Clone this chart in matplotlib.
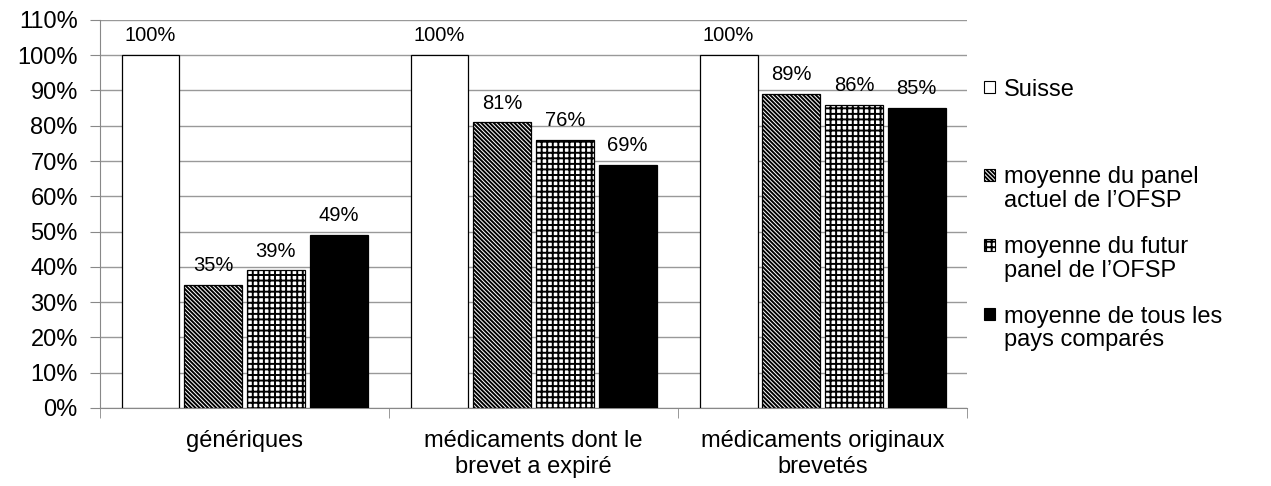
import numpy as np
import matplotlib.pyplot as plt
from matplotlib.patches import Rectangle

plt.rcParams['font.family'] = ['Liberation Sans', 'DejaVu Sans']
plt.rcParams['hatch.linewidth'] = 1.4

# data
categories = ['génériques', 'médicaments dont le\nbrevet a expiré', 'médicaments originaux\nbrevetés']
series = [['Suisse'],
          ['moyenne du panel', 'actuel de l\u2019OFSP'],
          ['moyenne du futur', 'panel de l\u2019OFSP'],
          ['moyenne de tous les', 'pays comparés']]
values = [
    [100, 100, 100],
    [35, 81, 89],
    [39, 76, 86],
    [49, 69, 85],
]
faces = ['white', 'white', 'white', 'black']
hatches = [None, '\\' * 8, '+++', None]

fig = plt.figure(figsize=(12.71, 4.86), dpi=100)
ax = fig.add_axes([0.0787, 0.1605, 0.6823, 0.7985])

x = np.arange(len(categories)) + 0.5
width = 0.2
step = 0.217
for i, vals in enumerate(values):
    pos = x + (i - 1.5) * step
    bars = ax.bar(pos, vals, width, color=faces[i], edgecolor='black', hatch=hatches[i],
                  linewidth=0.9, zorder=3)
    for b, v in zip(bars, vals):
        ax.annotate(f'{v}%', (b.get_x() + b.get_width() / 2, v), xytext=(0, 7),
                    textcoords='offset points', ha='center', va='bottom', fontsize=14.5)

ax.set_xlim(0, 3)
ax.set_ylim(0, 110)
ax.set_yticks(np.arange(0, 111, 10))
ax.set_yticklabels([f'{t}%' for t in range(0, 111, 10)], fontsize=17)
ax.set_xticks(x)
ax.set_xticklabels(categories, fontsize=17, linespacing=1.25)
ax.set_xticks([0, 1, 2, 3], minor=True)
ax.tick_params(axis='x', which='major', length=0, pad=16)
ax.tick_params(axis='x', which='minor', length=7, color='#888888')
ax.tick_params(axis='y', length=7, color='#888888', pad=9)
ax.grid(axis='y', color='#999999', linewidth=1.0, zorder=0)
for s in ['top', 'right']:
    ax.spines[s].set_visible(False)
for s in ['left', 'bottom']:
    ax.spines[s].set_color('#888888')

# legend drawn at fixed spots to follow the original layout (pixel rows of each line)
H = 486.0
W = 1271.0
leg_rows = [[87], [175, 198], [245, 268], [314, 337]]
for i, lines in enumerate(series):
    y0 = 1 - leg_rows[i][0] / H
    fig.add_artist(Rectangle((984 / W, y0 - 6 / H), 11 / W, 12 / H, transform=fig.transFigure,
                             facecolor=faces[i], edgecolor='black', hatch=hatches[i], linewidth=0.8))
    for row, txt in zip(leg_rows[i], lines):
        fig.text(1004 / W, 1 - row / H, txt, fontsize=17, va='center_baseline', ha='left')

fig.savefig('out.png')
